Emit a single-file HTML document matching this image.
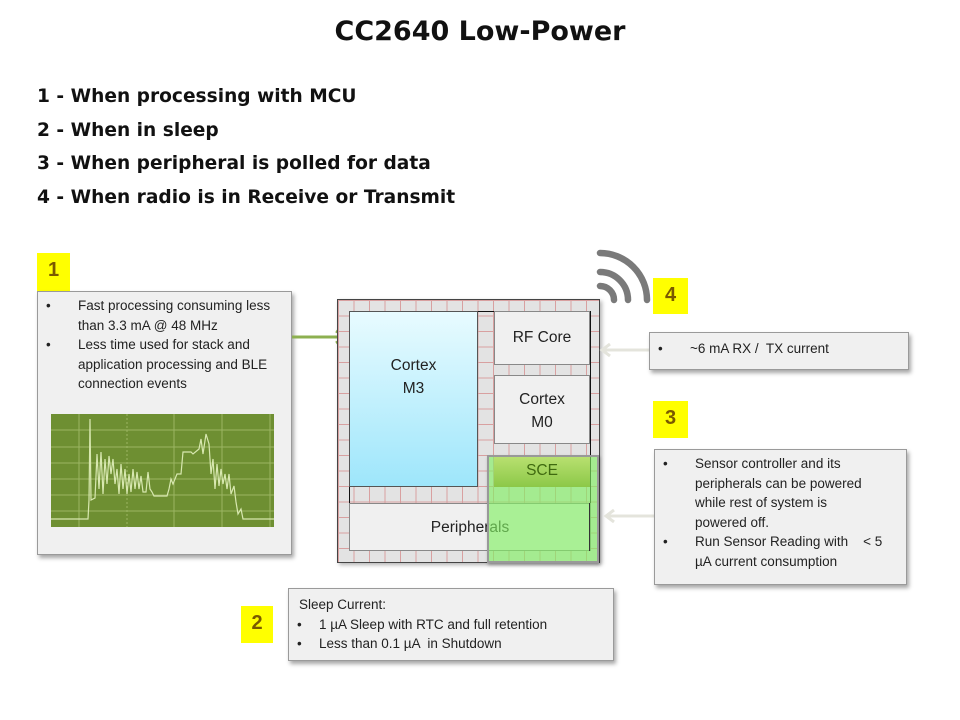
<!DOCTYPE html>
<html><head><meta charset="utf-8"><style>
body{margin:0;width:960px;height:720px;background:#fff;position:relative;overflow:hidden;font-family:"Liberation Sans",sans-serif;}
.a{position:absolute;}
.title{left:0;width:960px;top:16px;text-align:center;font-weight:bold;font-size:27px;color:#111;font-family:"DejaVu Sans",sans-serif;}
.li{left:37px;font-weight:bold;font-size:18.6px;color:#111;font-family:"DejaVu Sans",sans-serif;}
.box{position:absolute;background:#f0f0f0;border:1px solid #9a9a9a;box-shadow:2px 3px 4px rgba(0,0,0,.35);font-size:13.5px;color:#222;line-height:19.5px;box-sizing:border-box;}
.num{position:absolute;background:#ffff00;color:#7a5a00;font-weight:bold;font-size:20px;text-align:center;box-sizing:border-box;padding-top:6px;}
.b{position:relative;padding-left:40px;}
.b:before{content:"•";position:absolute;left:8px;}
.blk{position:absolute;background:#f0f0f0;border:1px solid #888;box-sizing:border-box;text-align:center;font-size:15.5px;color:#222;line-height:23px;}
</style></head><body>
<div class="a title">CC2640 Low-Power</div>
<div class="a li" style="top:86px">1 - When processing with MCU</div>
<div class="a li" style="top:120px">2 - When in sleep</div>
<div class="a li" style="top:153px">3 - When peripheral is polled for data</div>
<div class="a li" style="top:187px">4 - When radio is in Receive or Transmit</div>

<div class="num" style="left:37px;top:253px;width:33px;height:38px;">1</div>
<div class="box" style="left:37px;top:291px;width:255px;height:264px;padding:4px 8px 0 0;">
 <div class="b">Fast processing consuming less than 3.3 mA @ 48 MHz</div>
 <div class="b">Less time used for stack and application processing and BLE connection events</div>
</div>
<svg class="a" style="left:51px;top:414px" width="223" height="113">
 <rect width="223" height="113" fill="#6e8f32"/>
 <g stroke="#a8c070" stroke-width="1" opacity=".8">
  <line x1="0" y1="16" x2="223" y2="16"/><line x1="0" y1="33" x2="223" y2="33"/><line x1="0" y1="49" x2="223" y2="49"/><line x1="0" y1="65" x2="223" y2="65"/><line x1="0" y1="81" x2="223" y2="81"/><line x1="0" y1="97" x2="223" y2="97"/>
  <line x1="28" y1="0" x2="28" y2="113"/><line x1="76" y1="0" x2="76" y2="113" stroke-dasharray="2,2"/><line x1="123" y1="0" x2="123" y2="113"/><line x1="171" y1="0" x2="171" y2="113"/><line x1="219" y1="0" x2="219" y2="113"/>
 </g>
 <polyline fill="none" stroke="#d8e8b0" stroke-width="1.2" points="0,105 37,105 38,86 39,5 40,86 44,84 46,40 48,75 50,38 52,80 54,45 56,70 58,42 60,60 62,45 64,70 66,55 68,80 70,50 72,75 74,55 76,80 78,60 80,78 82,55 84,75 86,58 88,75 90,62 92,78 95,78 97,58 99,75 101,78 103,82 116,82 118,75 120,65 122,70 126,60 130,60 132,38 140,38 142,40 148,35 150,25 152,40 155,20 158,30 160,60 162,45 164,75 166,50 168,72 170,55 172,70 174,60 176,75 178,60 180,80 183,72 185,88 187,100 190,95 192,105 223,105"/>
</svg>
<svg class="a" style="left:290px;top:329px" width="62" height="16"><line x1="2" y1="8" x2="50" y2="8" stroke="#8db050" stroke-width="3"/><polyline points="46,2 56,8 46,14" fill="none" stroke="#8db050" stroke-width="3"/></svg>

<div class="a" style="left:337px;top:299px;width:263px;height:264px;background-color:#e3e3e3;background-image:linear-gradient(90deg,#d8a0a0 1px,transparent 1px),linear-gradient(#d8a0a0 1px,transparent 1px);background-size:15.5px 15.5px;border:1px solid #444;box-sizing:border-box;box-shadow:2px 2px 4px rgba(0,0,0,.3)"></div>
<div class="a" style="left:349px;top:311px;width:242px;height:240px;border:1px solid #111;box-sizing:border-box;"></div>
<div class="blk" style="left:349px;top:311px;width:129px;height:176px;background:linear-gradient(#e8fbff,#9ee6fb);border-color:#555;padding-top:42px;">Cortex<br>M3</div>
<div class="blk" style="left:494px;top:311px;width:96px;height:54px;padding-top:14px;">RF Core</div>
<div class="blk" style="left:494px;top:375px;width:96px;height:69px;padding-top:12px;">Cortex<br>M0</div>
<div class="blk" style="left:349px;top:503px;width:242px;height:48px;padding-top:12px;">Peripherals</div>
<div class="a" style="left:487px;top:455px;width:112px;height:108px;background:rgba(130,240,100,.65);border:2px solid #999;box-sizing:border-box;box-shadow:1px 2px 3px rgba(0,0,0,.3)"></div>
<div class="a" style="left:494px;top:457px;width:96px;height:30px;background:linear-gradient(#b8e070,#8cc848);text-align:center;font-size:15.5px;color:#3f6a10;line-height:28px;">SCE</div>
<div class="a" style="left:589px;top:503px;width:1px;height:48px;background:#333"></div>

<svg class="a" style="left:592px;top:244px" width="62" height="64">
 <g fill="none" stroke="#7a7a7a" stroke-width="6.5" stroke-linecap="round">
  <path d="M8,42 A14,14 0 0 1 22,56"/>
  <path d="M8,28 A28,28 0 0 1 36,56"/>
  <path d="M8,9 A47,47 0 0 1 55,56"/>
 </g>
</svg>

<div class="num" style="left:653px;top:278px;width:35px;height:36px;">4</div>
<svg class="a" style="left:598px;top:343px" width="52" height="14"><line x1="4" y1="7" x2="52" y2="7" stroke="#e4e4dc" stroke-width="3"/><polyline points="12,1 4,7 12,13" fill="none" stroke="#e4e4dc" stroke-width="3"/></svg>
<div class="box" style="left:649px;top:332px;width:260px;height:38px;padding-top:6px;"><div class="b">~6 mA RX /&nbsp; TX current</div></div>

<div class="num" style="left:653px;top:401px;width:35px;height:37px;">3</div>
<svg class="a" style="left:602px;top:509px" width="54" height="14"><line x1="4" y1="7" x2="54" y2="7" stroke="#e4e4dc" stroke-width="3"/><polyline points="12,1 4,7 12,13" fill="none" stroke="#e4e4dc" stroke-width="3"/></svg>
<div class="box" style="left:654px;top:449px;width:253px;height:136px;padding:4px 20px 0 0;">
 <div class="b">Sensor controller and its<br>peripherals can be powered<br>while rest of system is<br>powered off.</div>
 <div class="b">Run Sensor Reading with &nbsp;&nbsp;&nbsp;&lt;&nbsp;5 µA current consumption</div>
</div>

<div class="num" style="left:241px;top:606px;width:32px;height:37px;">2</div>
<div class="box" style="left:288px;top:588px;width:326px;height:73px;padding:6px 0 0 10px;">
 Sleep Current:
 <div class="b" style="padding-left:30px;margin-left:-10px">1 µA Sleep with RTC and full retention</div>
 <div class="b" style="padding-left:30px;margin-left:-10px">Less than 0.1 µA &nbsp;in Shutdown</div>
</div>
</body></html>
